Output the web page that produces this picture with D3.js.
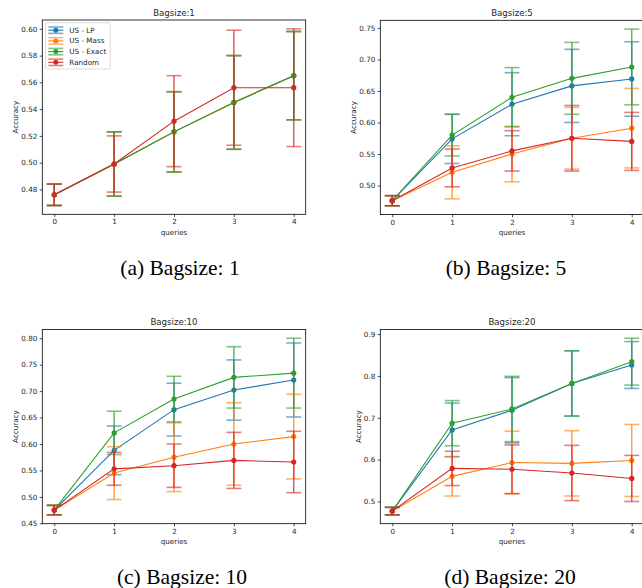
<!DOCTYPE html>
<html>
<head>
<meta charset="utf-8">
<script src="https://cdn.jsdelivr.net/npm/d3@7"></script>
<style>
body { margin: 0; background: #fff; }
svg { display: block; }
text { font-family: "DejaVu Sans", sans-serif; fill: #262626; }
.caption { font-family: "Liberation Serif", "Times New Roman", serif; fill: #000; }
</style>
</head>
<body>
<svg id="fig" width="642" height="588"></svg>
<script>
// queries on x, one set of arrays per bag size
var queries = [0, 1, 2, 3, 4];
var seriesNames = ["US - LP", "US - Mass", "US - Exact", "Random"];
var colors = ["#1f77b4", "#ff7f0e", "#2ca02c", "#d62728"];

// bagsize 1
var bag1LP     = [0.476, 0.499, 0.523, 0.545, 0.565];
var bag1LPErr  = [0.008, 0.024, 0.030, 0.035, 0.033];
var bag1Mass   = [0.476, 0.499, 0.523, 0.545, 0.565];
var bag1MassErr= [0.008, 0.024, 0.030, 0.035, 0.033];
var bag1Exact  = [0.476, 0.499, 0.523, 0.545, 0.565];
var bag1ExactErr=[0.008, 0.024, 0.030, 0.035, 0.033];
var bag1Rand   = [0.476, 0.499, 0.531, 0.556, 0.556];
var bag1RandErr= [0.008, 0.021, 0.034, 0.043, 0.044];
var bag1Ticks  = [0.48, 0.50, 0.52, 0.54, 0.56, 0.58, 0.60];

// bagsize 5
var bag5LP     = [0.476, 0.574, 0.629, 0.658, 0.669];
var bag5LPErr  = [0.008, 0.039, 0.050, 0.058, 0.059];
var bag5Mass   = [0.476, 0.521, 0.550, 0.575, 0.591];
var bag5MassErr= [0.008, 0.042, 0.044, 0.049, 0.063];
var bag5Exact  = [0.476, 0.580, 0.640, 0.670, 0.688];
var bag5ExactErr=[0.008, 0.033, 0.047, 0.057, 0.060];
var bag5Rand   = [0.476, 0.528, 0.555, 0.575, 0.570];
var bag5RandErr= [0.008, 0.030, 0.032, 0.052, 0.046];
var bag5Ticks  = [0.50, 0.55, 0.60, 0.65, 0.70, 0.75];

// bagsize 10
var bag10LP     = [0.475, 0.588, 0.665, 0.702, 0.721];
var bag10LPErr  = [0.009, 0.046, 0.050, 0.057, 0.070];
var bag10Mass   = [0.475, 0.545, 0.575, 0.600, 0.614];
var bag10MassErr= [0.009, 0.050, 0.065, 0.078, 0.080];
var bag10Exact  = [0.475, 0.621, 0.685, 0.726, 0.734];
var bag10ExactErr=[0.009, 0.041, 0.043, 0.058, 0.066];
var bag10Rand   = [0.475, 0.553, 0.559, 0.569, 0.566];
var bag10RandErr= [0.009, 0.031, 0.041, 0.053, 0.058];
var bag10Ticks  = [0.45, 0.50, 0.55, 0.60, 0.65, 0.70, 0.75, 0.80];

// bagsize 20
var bag20LP     = [0.477, 0.671, 0.718, 0.782, 0.826];
var bag20LPErr  = [0.009, 0.064, 0.078, 0.078, 0.056];
var bag20Mass   = [0.477, 0.560, 0.593, 0.591, 0.598];
var bag20MassErr= [0.009, 0.047, 0.075, 0.078, 0.086];
var bag20Exact  = [0.477, 0.687, 0.721, 0.782, 0.834];
var bag20ExactErr=[0.009, 0.054, 0.078, 0.078, 0.056];
var bag20Rand   = [0.477, 0.579, 0.577, 0.568, 0.555];
var bag20RandErr= [0.009, 0.041, 0.058, 0.066, 0.055];
var bag20Ticks  = [0.5, 0.6, 0.7, 0.8, 0.9];

var panels = [
	{title: "Bagsize:1", caption: "(a) Bagsize: 1", left: 42.3, top: 20, capX: 180, ticks: bag1Ticks, fmt: ".2f", legend: true,
	 means: [bag1LP, bag1Mass, bag1Exact, bag1Rand], errs: [bag1LPErr, bag1MassErr, bag1ExactErr, bag1RandErr]},
	{title: "Bagsize:5", caption: "(b) Bagsize: 5", left: 380.3, top: 20.3, capX: 506, ticks: bag5Ticks, fmt: ".2f", legend: false,
	 means: [bag5LP, bag5Mass, bag5Exact, bag5Rand], errs: [bag5LPErr, bag5MassErr, bag5ExactErr, bag5RandErr]},
	{title: "Bagsize:10", caption: "(c) Bagsize: 10", left: 42.3, top: 329.4, capX: 182, ticks: bag10Ticks, fmt: ".2f", legend: false,
	 means: [bag10LP, bag10Mass, bag10Exact, bag10Rand], errs: [bag10LPErr, bag10MassErr, bag10ExactErr, bag10RandErr]},
	{title: "Bagsize:20", caption: "(d) Bagsize: 20", left: 380.3, top: 329.4, capX: 510, ticks: bag20Ticks, fmt: ".1f", legend: false,
	 means: [bag20LP, bag20Mass, bag20Exact, bag20Rand], errs: [bag20LPErr, bag20MassErr, bag20ExactErr, bag20RandErr]}
];

var W = 263.4, H = 194.3;
var capHalf = 7.5;
var svg = d3.select("#fig");

function drawPanel(p){
	var g = svg.append("g").attr("transform", "translate(" + p.left + "," + p.top + ")");

	// y range like matplotlib: data incl. error bars plus 5% margin
	var lo = d3.min(p.means, function(m, i){ return d3.min(m, function(v, j){ return v - p.errs[i][j]; }); });
	var hi = d3.max(p.means, function(m, i){ return d3.max(m, function(v, j){ return v + p.errs[i][j]; }); });
	var pad = (hi - lo) * 0.05;

	var x = d3.scaleLinear().domain([-0.2, 4.2]).range([0, W]);
	var y = d3.scaleLinear().domain([lo - pad, hi + pad]).range([H, 0]);

	var yAxis = g.append("g")
	.call(d3.axisLeft(y).tickValues(p.ticks).tickFormat(d3.format(p.fmt)).tickSize(2.6).tickPadding(2.4));
	var xAxis = g.append("g").attr("transform", "translate(0," + H + ")")
	.call(d3.axisBottom(x).tickValues(queries).tickFormat(d3.format("d")).tickSize(2.6).tickPadding(2.4));
	[xAxis, yAxis].forEach(function(a){
		a.select(".domain").remove();
		a.selectAll("line").attr("stroke", "#000").attr("stroke-width", 0.7);
		a.selectAll("text").attr("font-size", 7.2).attr("fill", "#262626").style("font-family", "DejaVu Sans");
	});

	// series: error bars then line and markers
	p.means.forEach(function(m, i){
		var c = colors[i];
		var e = p.errs[i];
		var s = g.append("g");
		queries.forEach(function(q, j){
			s.append("line")
			.attr("x1", x(q)).attr("x2", x(q))
			.attr("y1", y(m[j] - e[j])).attr("y2", y(m[j] + e[j]))
			.attr("stroke", c).attr("stroke-width", 1.5).attr("stroke-opacity", 0.75);
			[m[j] - e[j], m[j] + e[j]].forEach(function(v){
				s.append("line")
				.attr("x1", x(q) - capHalf).attr("x2", x(q) + capHalf)
				.attr("y1", y(v)).attr("y2", y(v))
				.attr("stroke", c).attr("stroke-width", 1.6).attr("stroke-opacity", 0.6);
			});
		});
		s.append("path")
		.datum(queries)
		.attr("d", d3.line().x(function(q){ return x(q); }).y(function(q, j){ return y(m[j]); }))
		.attr("fill", "none").attr("stroke", c).attr("stroke-width", 1.1);
		s.selectAll("circle").data(queries).enter().append("circle")
		.attr("cx", function(q){ return x(q); })
		.attr("cy", function(q, j){ return y(m[j]); })
		.attr("r", 2.6)
		.attr("fill", c);
	});

	// spines
	g.append("rect").attr("width", W).attr("height", H)
	.attr("fill", "none").attr("stroke", "#000").attr("stroke-width", 0.8);

	g.append("text").attr("x", W / 2).attr("y", -4.5)
	.attr("text-anchor", "middle").attr("font-size", 8.6).text(p.title);

	g.append("text").attr("x", W / 2).attr("y", H + 20.2)
	.attr("text-anchor", "middle").attr("font-size", 7.2).text("queries");

	var bb = yAxis.node().getBBox();
	g.append("text")
	.attr("transform", "translate(" + (bb.x - 3.2) + "," + (H / 2) + ") rotate(-90)")
	.attr("text-anchor", "middle").attr("font-size", 7.2).text("Accuracy");

	svg.append("text").attr("class", "caption")
	.attr("x", p.capX).attr("y", p.top + 255)
	.attr("text-anchor", "middle").attr("font-size", 21.5).text(p.caption);

	if(p.legend) drawLegend(g);
}

function drawLegend(g){
	var lg = g.append("g").attr("transform", "translate(3.4,2.7)");
	lg.append("rect").attr("width", 64.5).attr("height", 46.3).attr("rx", 1.5)
	.attr("fill", "#fff").attr("fill-opacity", 0.8)
	.attr("stroke", "#ccc").attr("stroke-width", 0.7);
	seriesNames.forEach(function(name, i){
		var yy = 7.5 + i * 10.7;
		var c = colors[i];
		lg.append("line").attr("x1", 2.6).attr("x2", 17.6).attr("y1", yy).attr("y2", yy)
		.attr("stroke", c).attr("stroke-width", 1.1);
		[-3.2, 3.2].forEach(function(d){
			lg.append("line").attr("x1", 2.6).attr("x2", 17.6).attr("y1", yy + d).attr("y2", yy + d)
			.attr("stroke", c).attr("stroke-width", 1.6).attr("stroke-opacity", 0.6);
		});
		lg.append("circle").attr("cx", 10.1).attr("cy", yy).attr("r", 2.5).attr("fill", c);
		lg.append("text").attr("x", 23.6).attr("y", yy + 2.6).attr("font-size", 7.2).text(name);
	});
}

panels.forEach(drawPanel);
</script>
</body>
</html>
